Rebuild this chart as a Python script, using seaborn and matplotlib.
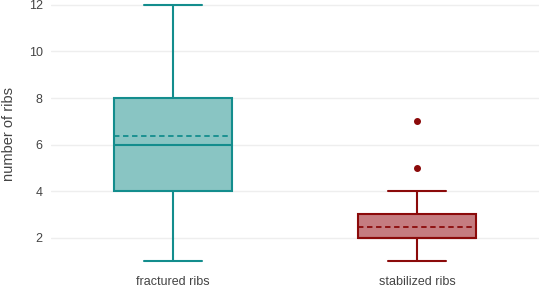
import matplotlib
matplotlib.use("Agg")
import matplotlib.pyplot as plt
import seaborn as sns
import pandas as pd

# raw counts per patient, read so that quartiles / mean match the picture
categories = ["fractured ribs", "stabilized ribs"]
fractured = [1, 2, 3, 4, 4, 4, 5, 5, 6, 6, 6, 7, 7, 8, 8, 8, 10, 10, 11, 12]
stabilized = [1, 1, 1, 1, 2, 2, 2, 2, 2, 2, 2, 2, 2, 2, 3, 3, 3, 4, 5, 7]
line_colors = ["#138d8d", "#8b0a0a"]
fill_colors = ["#89c5c3", "#c57c80"]
yticks = [2, 4, 6, 8, 10, 12]

df = pd.DataFrame({
    "group": [categories[0]] * len(fractured) + [categories[1]] * len(stabilized),
    "ribs": fractured + stabilized,
})

sns.set_theme(style="white")
plt.rcParams["font.family"] = ["Liberation Sans", "DejaVu Sans"]

fig = plt.figure(figsize=(5.4, 2.89), dpi=100)
ax = fig.add_axes([51 / 540, 21 / 289, 488 / 540, 268 / 289])

for cat, lc, fc in zip(categories, line_colors, fill_colors):
    sns.boxplot(data=df[df.group == cat], x="group", y="ribs", order=categories,
                color=fc, linecolor=lc, saturation=1, width=0.48, linewidth=1.5,
                showmeans=True, meanline=True,
                meanprops=dict(color=lc, linestyle=(0, (3, 2)), linewidth=1.3),
                medianprops=dict(color=lc, linewidth=1.5),
                flierprops=dict(marker="o", markerfacecolor=lc, markeredgecolor=lc,
                                markersize=4),
                ax=ax)

ax.set_xlim(-0.5, 1.5)
ax.set_ylim(0.7, 12.21)
ax.set_yticks(yticks)
ax.set_yticklabels([str(t) for t in yticks])
ax.yaxis.grid(True, color="#eeeeee", linewidth=1)
ax.set_axisbelow(True)
for s in ax.spines.values():
    s.set_visible(False)
ax.tick_params(axis="both", length=0, labelsize=9, labelcolor="#444444")
ax.tick_params(axis="y", pad=6)
ax.tick_params(axis="x", pad=6)
ax.set_xlabel("")
ax.set_ylabel("number of ribs", fontsize=10.5, color="#444444", labelpad=9)

plt.savefig("out.png", dpi=100)
